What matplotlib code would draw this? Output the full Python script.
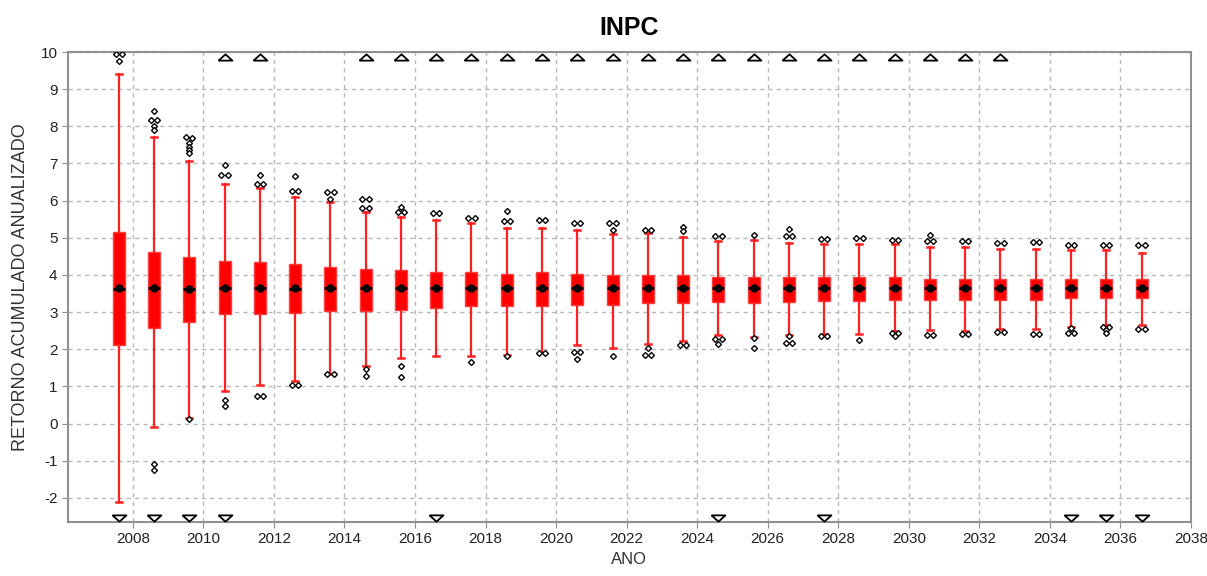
import numpy as np
import matplotlib
matplotlib.use('Agg')
import matplotlib.pyplot as plt

plt.rcParams['font.family'] = ['Liberation Sans', 'DejaVu Sans']
plt.rcParams['axes.unicode_minus'] = False

years = list(range(2008, 2038))

whis_lo = [-2.10, -0.10, 0.15, 0.87, 1.05, 1.14, 1.34, 1.56, 1.77, 1.81,
           1.81, 1.85, 1.93, 2.12, 2.02, 2.15, 2.23, 2.37, 2.32, 2.37,
           2.41, 2.41, 2.48, 2.51, 2.50, 2.55, 2.55, 2.59, 2.66, 2.66]
q1 = [2.11, 2.57, 2.73, 2.95, 2.95, 2.97, 3.04, 3.04, 3.06, 3.11,
      3.15, 3.15, 3.17, 3.20, 3.20, 3.24, 3.24, 3.27, 3.24, 3.27,
      3.29, 3.29, 3.33, 3.33, 3.33, 3.33, 3.33, 3.38, 3.38, 3.38]
median = [3.63, 3.65, 3.62, 3.65, 3.65, 3.63, 3.65, 3.65, 3.65, 3.65,
          3.65, 3.65, 3.65, 3.64, 3.64, 3.64, 3.64, 3.64, 3.64, 3.64,
          3.65, 3.65, 3.65, 3.65, 3.65, 3.65, 3.65, 3.65, 3.65, 3.65]
mean = [3.64, 3.66, 3.63, 3.66, 3.66, 3.64, 3.66, 3.66, 3.66, 3.66,
        3.66, 3.66, 3.66, 3.65, 3.65, 3.65, 3.65, 3.65, 3.65, 3.65,
        3.66, 3.66, 3.66, 3.66, 3.66, 3.66, 3.66, 3.66, 3.66, 3.66]
q3 = [5.15, 4.63, 4.47, 4.38, 4.34, 4.30, 4.21, 4.17, 4.12, 4.08,
      4.08, 4.03, 4.08, 4.03, 3.99, 3.99, 3.99, 3.94, 3.94, 3.94,
      3.94, 3.94, 3.94, 3.90, 3.90, 3.90, 3.90, 3.90, 3.90, 3.90]
whis_hi = [9.41, 7.70, 7.07, 6.46, 6.34, 6.11, 5.95, 5.69, 5.56, 5.48,
           5.41, 5.27, 5.26, 5.22, 5.10, 5.14, 5.01, 4.92, 4.93, 4.87,
           4.84, 4.84, 4.84, 4.74, 4.74, 4.70, 4.70, 4.68, 4.68, 4.59]

outliers = [
    [9.94, 9.94, 9.77],
    [8.40, 8.17, 8.17, 8.01, 7.90, -1.09, -1.25],
    [7.70, 7.68, 7.55, 7.45, 7.37, 7.29, 0.13],
    [6.96, 6.69, 6.69, 0.64, 0.48],
    [6.69, 6.44, 6.44, 0.75, 0.75],
    [6.67, 6.25, 6.25, 1.05, 1.05],
    [6.23, 6.23, 6.04, 1.33, 1.33],
    [6.04, 6.04, 5.81, 5.81, 1.47, 1.29],
    [5.82, 5.69, 5.69, 1.54, 1.24],
    [5.68, 5.68],
    [5.53, 5.53, 1.65],
    [5.73, 5.44, 5.44, 1.81],
    [5.48, 5.48, 1.89, 1.89],
    [5.39, 5.39, 1.92, 1.92, 1.75],
    [5.39, 5.39, 5.22, 1.83],
    [5.22, 5.22, 2.03, 1.84, 1.84],
    [5.30, 5.17, 2.12, 2.12],
    [5.05, 5.05, 2.27, 2.27, 2.14],
    [5.08, 2.29, 2.02],
    [5.23, 5.06, 5.06, 2.35, 2.17, 2.17],
    [4.97, 4.97, 2.35, 2.35],
    [4.99, 4.99, 2.24],
    [4.93, 4.93, 2.44, 2.44, 2.35],
    [5.08, 4.90, 4.90, 2.37, 2.37],
    [4.90, 4.90, 2.41, 2.41],
    [4.87, 4.87, 2.46, 2.46],
    [4.88, 4.88, 2.41, 2.41],
    [4.81, 4.81, 2.57, 2.44, 2.44],
    [4.81, 4.81, 2.61, 2.61, 2.52, 2.44],
    [4.81, 4.81, 2.55, 2.55],
]

# years whose distribution runs past the plotted range
above_range = [2011, 2012, 2015, 2016, 2017, 2018, 2019, 2020, 2021, 2022, 2023,
               2024, 2025, 2026, 2027, 2028, 2029, 2030, 2031, 2032, 2033]
below_range = [2008, 2009, 2010, 2011, 2017, 2025, 2028, 2035, 2036, 2037]

y_min, y_max = -2.65, 10.0

fig = plt.figure(figsize=(12.07, 5.76), dpi=100)
ax = fig.add_axes([0.0563, 0.0938, 0.9304, 0.8159])

pos = np.array(years) - 0.4
stats = []
for i in range(len(years)):
    stats.append(dict(med=median[i], q1=q1[i], q3=q3[i], whislo=whis_lo[i],
                      whishi=whis_hi[i], mean=mean[i], fliers=[]))

ax.bxp(stats, positions=pos, widths=0.34, patch_artist=True, showfliers=False,
       showmeans=True, manage_ticks=False,
       boxprops=dict(facecolor='#ff0000', edgecolor='#ff4040', linewidth=1),
       whiskerprops=dict(color='#ff2020', linewidth=1.6),
       capprops=dict(color='#ff2020', linewidth=1.8),
       medianprops=dict(color='black', linewidth=2),
       meanprops=dict(marker='o', markerfacecolor='black', markeredgecolor='black',
                      markersize=5))

# outliers, neighbours nudged sideways like the original
for i, vals in enumerate(outliers):
    for j, v in enumerate(vals):
        dx = 0.0
        if j > 0 and abs(vals[j - 1] - v) < 0.05:
            dx = 0.09
        elif j + 1 < len(vals) and abs(vals[j + 1] - v) < 0.05:
            dx = -0.09
        ax.plot(pos[i] + dx, v, marker='D', markersize=3, markerfacecolor='white',
                markeredgecolor='black', markeredgewidth=1, linestyle='none', zorder=4)

up_tri = [(-1, -0.45), (1, -0.45), (0, 0.45), (-1, -0.45)]
down_tri = [(-1, 0.45), (1, 0.45), (0, -0.45), (-1, 0.45)]
for yr in above_range:
    ax.plot(yr - 0.4, 9.86, marker=up_tri, markersize=10, markerfacecolor='white',
            markeredgecolor='black', markeredgewidth=1.3, linestyle='none',
            clip_on=False, zorder=5)
for yr in below_range:
    ax.plot(yr - 0.4, -2.53, marker=down_tri, markersize=10, markerfacecolor='white',
            markeredgecolor='black', markeredgewidth=1.3, linestyle='none',
            clip_on=False, zorder=5)

ax.set_xlim(2006.16, 2038)
ax.set_ylim(y_min, y_max)
ax.set_xticks(range(2008, 2039, 2))
ax.set_yticks(range(-2, 11))
ax.grid(True, color='#b8b8b8', linestyle=(0, (3, 3)), linewidth=1)
ax.set_axisbelow(True)
for s in ax.spines.values():
    s.set_color('#909090')
    s.set_linewidth(1.5)
ax.tick_params(colors='#909090', labelcolor='#222222', labelsize=11, length=4)

ax.set_title('INPC', fontsize=18, fontweight='bold', pad=12)
ax.set_xlabel('ANO', fontsize=12, color='#333333')
ax.set_ylabel('RETORNO ACUMULADO ANUALIZADO', fontsize=13, color='#333333', labelpad=8)

fig.savefig('out.png', dpi=100)
